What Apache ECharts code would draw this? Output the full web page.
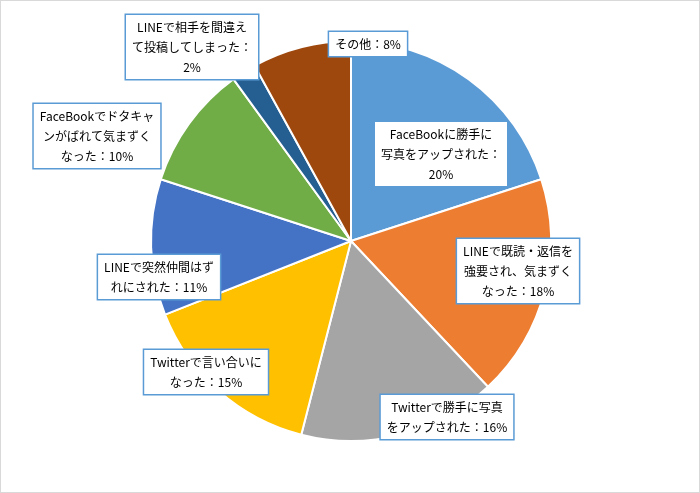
<!DOCTYPE html>
<html><head><meta charset="utf-8">
<script src="https://cdn.jsdelivr.net/npm/echarts@6/dist/echarts.min.js"></script>
<style>html,body{margin:0;padding:0;background:#fff}#c{width:700px;height:493px;box-sizing:border-box;border:1px solid #d9d9d9}</style>
</head><body><div id="c"></div>
<script>
const categories = [
  "FaceBookに勝手に\n写真をアップされた：\n20%",
  "LINEで既読・返信を\n強要され、気まずく\nなった：18%",
  "Twitterで勝手に写真\nをアップされた：16%",
  "Twitterで言い合いに\nなった：15%",
  "LINEで突然仲間はず\nれにされた：11%",
  "FaceBookでドタキャ\nンがばれて気まずく\nなった：10%",
  "LINEで相手を間違え\nて投稿してしまった：\n2%",
  "その他：8%"
];
const values = [20, 18, 16, 15, 11, 10, 2, 8];
const colors = ["#5B9BD5","#ED7D31","#A5A5A5","#FFC000","#4472C4","#70AD47","#255E91","#9E480E"];
const labelPos = [[440,153],[517,270],[446,416],[205,371],[158,276],[96,135],[191,46],[367,43]];
const chart = echarts.init(document.getElementById('c'));
chart.setOption({
  animation:false,
  series:[{
    type:'pie', center:[350,240], radius:[0,200], startAngle:90, clockwise:true,
    itemStyle:{borderColor:'#fff',borderWidth:2},
    label:{show:true, position:'inside', formatter:p=>categories[p.dataIndex],
      color:'#000', fontSize:12, lineHeight:20, fontFamily:'Noto Sans CJK JP',
      backgroundColor:'#fff', borderColor:'#5B9BD5', borderWidth:1.5, padding:[2,6], align:'center'},
    labelLine:{show:false},
    labelLayout:p=>({x:labelPos[p.dataIndex][0], y:labelPos[p.dataIndex][1], align:'center', verticalAlign:'middle'}),
    data: values.map((v,i)=>({value:v, name:'c'+i, itemStyle:{color:colors[i]}}))
  }]
});
</script></body></html>
